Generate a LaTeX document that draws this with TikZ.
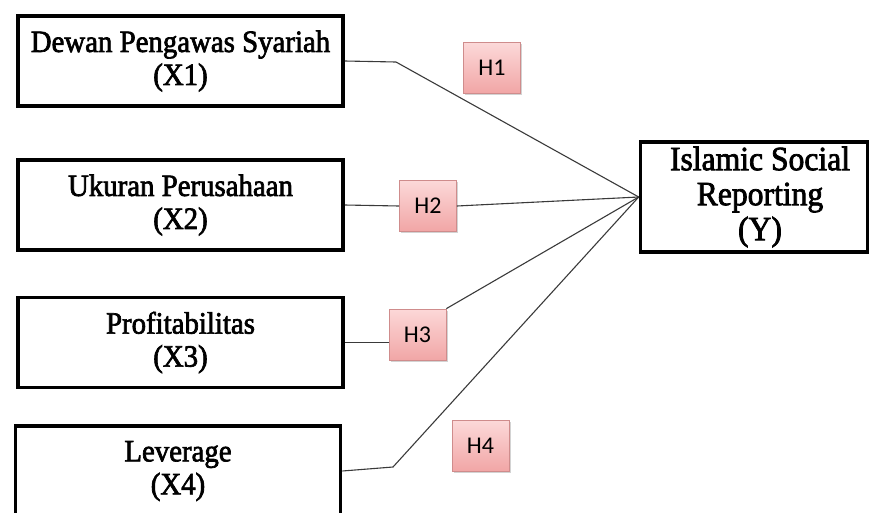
\documentclass[tikz,border=0pt]{standalone}
\usepackage{fontspec}
\setmainfont{Liberation Serif}[FakeStretch = 0.93, FakeBold = 2.2]
\newfontfamily\hfont{Carlito}
\usetikzlibrary{calc, shadows}

\definecolor{hypfilltop}{HTML}{FCD8D8}
\definecolor{hypfillbot}{HTML}{F1A6A6}
\definecolor{hypborder}{HTML}{CF8C8C}
\definecolor{linegray}{HTML}{3A3A3A}

\tikzset{
	varbox/.style = {draw, line width = 3.6pt, fill = white, align = center,
		minimum width = 325pt, minimum height = 90pt, inner sep = 0pt,
		font = \fontsize{31}{33}\selectfont},
	hypbox/.style = {draw = hypborder, line width = 0.8pt, top color = hypfilltop,
		bottom color = hypfillbot, minimum width = 57pt, minimum height = 51pt,
		inner sep = 0pt, font = \hfont\fontsize{24}{26}\selectfont,
		drop shadow = {shadow xshift = 1.5pt, shadow yshift = -1.5pt, opacity = 0.35}},
	link/.style = {draw = linegray, line width = 1.1pt}
}

\begin{document}
\begin{tikzpicture}[x = 1pt, y = -1pt]
			\useasboundingbox (0,0) rectangle (870,512);

			\def\bx{180.5};

			% variables
			\node[varbox] (X1) at (\bx,61) {Dewan Pengawas Syariah\\(X1)};
			\node[varbox] (X2) at (\bx,205) {Ukuran Perusahaan\\(X2)};
			\node[varbox] (X3) at (\bx,342.5) {Profitabilitas\\(X3)};
			\node[varbox] (X4) at (178,471) {Leverage\\(X4)};

			\node[varbox, minimum width = 227pt, minimum height = 110pt,
				font = \fontsize{34}{35}\selectfont] (Y) at (754,197)
				{\hspace*{12pt}Islamic Social\\\hspace*{12pt}Reporting\\\hspace*{12pt}(Y)};

			% hypotheses
			\node[hypbox] (H1) at (492,68) {H1};
			\node[hypbox] (H2) at (428,206) {H2};
			\node[hypbox] (H3) at (417.5,334.5) {H3};
			\node[hypbox] (H4) at (480.5,446) {H4};

			\coordinate (k1) at (396,62);
			\coordinate (k4) at (393,467);

			% paths
			\draw[link] (X1.east) -- (k1) -- (Y.west);
			\draw[link] (X2.east) -- (H2.west);
			\draw[link] (H2.east) -- (Y.west);
			\draw[link] (X3.east) -- (X3.east -| H3.west);
			\draw[link] (H3.north east) -- (Y.west);
			\draw[link] (X4.east) -- (k4) -- (Y.west);
		\end{tikzpicture}
\end{document}
